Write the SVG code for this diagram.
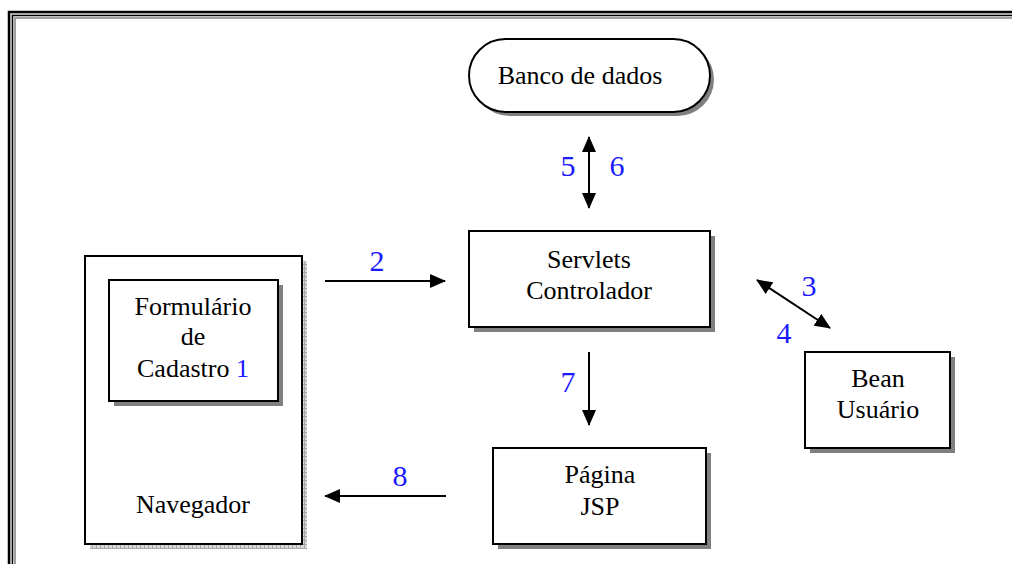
<svg xmlns="http://www.w3.org/2000/svg" width="1012" height="564" viewBox="0 0 1012 564">
<style>
.box{fill:#fff;stroke:#000;stroke-width:2}
.sh{fill:#808080}
.t{font-size:26px;fill:#000;text-anchor:middle}
.n{font-size:30px;fill:#1a1aff;text-anchor:middle}
.c{stroke:#000;stroke-width:2;fill:none}
</style>
<defs>
<pattern id="hatch" width="4" height="4" patternUnits="userSpaceOnUse">
<rect width="4" height="4" fill="#d8d8d8"/>
<path d="M0 0.5H4M0.5 0V4" stroke="#a8a8a8" stroke-width="1"/>
</pattern>
<marker id="ah" markerWidth="16" markerHeight="14" refX="15" refY="7" orient="auto-start-reverse" markerUnits="userSpaceOnUse">
<path d="M0 0L16 7L0 14Z" fill="#000"/>
</marker>
</defs>
<rect width="1012" height="564" fill="#fff"/>
<g id="frame" fill="none">
<rect x="9" y="12" width="1020" height="580" stroke="#000" stroke-width="2.5"/>
<rect x="10.8" y="13.8" width="1020" height="580" stroke="#999" stroke-width="1"/>
<rect x="12.5" y="15.5" width="1020" height="580" stroke="#000" stroke-width="1.5"/>
<rect x="15" y="18" width="1020" height="580" stroke="#808080" stroke-width="1.5"/>
</g>
<g font-family="'Liberation Serif', 'Times New Roman', 'DejaVu Serif', serif">
<g id="banco">
<rect class="sh" x="473" y="43" width="241" height="73" rx="36.5"/>
<rect class="box" x="469" y="39" width="241" height="73" rx="36.5"/>
<text class="t" x="580" y="84">Banco de dados</text>
</g>
<g id="servlets">
<rect class="sh" x="474" y="236" width="241" height="96"/>
<rect class="box" x="469" y="231" width="241" height="96"/>
<text class="t" x="589" y="268">Servlets</text>
<text class="t" x="589" y="299">Controlador</text>
</g>
<g id="navegador">
<rect x="90" y="261" width="217" height="288" fill="url(#hatch)"/>
<rect class="box" x="85" y="256" width="217" height="288"/>
<text class="t" x="193" y="513">Navegador</text>
</g>
<g id="formulario">
<rect class="sh" x="114" y="285" width="169" height="121"/>
<rect class="box" x="109" y="280" width="169" height="121"/>
<text class="t" x="193" y="315">Formulário</text>
<text class="t" x="193" y="345">de</text>
<text class="t" x="193" y="377">Cadastro <tspan fill="#1a1aff">1</tspan></text>
</g>
<g id="bean">
<rect class="sh" x="810" y="357" width="145" height="96"/>
<rect class="box" x="805" y="352" width="145" height="96"/>
<text class="t" x="878" y="387">Bean</text>
<text class="t" x="878" y="418">Usuário</text>
</g>
<g id="pagina">
<rect class="sh" x="498" y="453" width="213" height="96"/>
<rect class="box" x="493" y="448" width="213" height="96"/>
<text class="t" x="600" y="483">Página</text>
<text class="t" x="600" y="515">JSP</text>
</g>
<g id="connectors">
<line class="c" x1="325" y1="281" x2="445" y2="281" marker-end="url(#ah)"/>
<line class="c" x1="589" y1="137" x2="589" y2="208" marker-start="url(#ah)" marker-end="url(#ah)"/>
<line class="c" x1="757" y1="280" x2="830" y2="328" marker-start="url(#ah)" marker-end="url(#ah)"/>
<line class="c" x1="589" y1="352" x2="589" y2="425" marker-end="url(#ah)"/>
<line class="c" x1="446" y1="496" x2="325" y2="496" marker-end="url(#ah)"/>
<text class="n" x="377" y="271">2</text>
<text class="n" x="568" y="176">5</text>
<text class="n" x="617" y="176">6</text>
<text class="n" x="809" y="296">3</text>
<text class="n" x="784" y="343">4</text>
<text class="n" x="568" y="392">7</text>
<text class="n" x="400" y="486">8</text>
</g>
</g>
</svg>
